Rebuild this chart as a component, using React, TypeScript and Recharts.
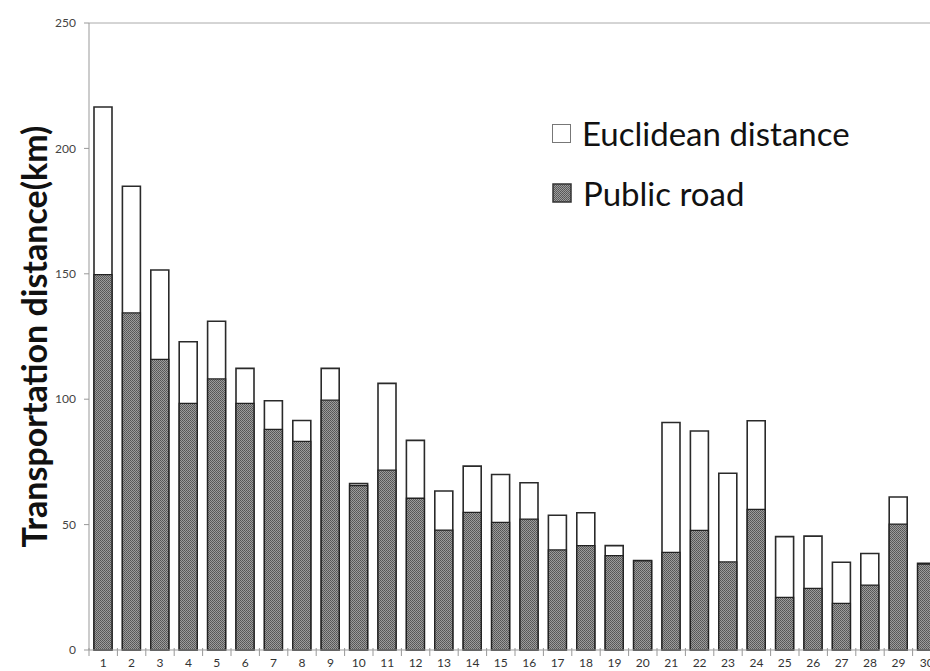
import React from 'react'
import {
  Bar,
  BarChart,
  ReferenceLine,
  XAxis,
  YAxis,
} from 'recharts'

const sites = [
  '1', '2', '3', '4', '5', '6', '7', '8', '9', '10',
  '11', '12', '13', '14', '15', '16', '17', '18', '19', '20',
  '21', '22', '23', '24', '25', '26', '27', '28', '29', '30',
]
const euclidean = [
  216.5, 184.9, 151.5, 122.9, 131.1, 112.3, 99.4, 91.5, 112.3, 66.4,
  106.3, 83.6, 63.4, 73.3, 70.0, 66.7, 53.7, 54.7, 41.6, 35.7,
  90.7, 87.3, 70.5, 91.4, 45.2, 45.4, 35.0, 38.5, 61.0, 34.6,
]
const publicRoad = [
  149.7, 134.4, 115.9, 98.3, 108.1, 98.3, 88.0, 83.2, 99.6, 65.6,
  71.7, 60.5, 47.8, 54.9, 50.9, 52.2, 39.9, 41.6, 37.6, 35.5,
  38.9, 47.7, 35.1, 56.1, 21.0, 24.6, 18.6, 25.9, 50.2, 34.3,
]
const yTicks = [0, 50, 100, 150, 200, 250]

const data = sites.map((name, i) => ({
  name,
  euclidean: euclidean[i],
  publicRoad: publicRoad[i],
}))

const FONT = 'Lato, "DejaVu Sans", sans-serif'

const SiteTick = (props: any) => {
  const { x, y, payload } = props
  const half = payload?.offset ?? 14.2
  return (
    <g>
      <line x1={x - half} x2={x - half} y1={y - 9} y2={y - 1} stroke='#999' />
      <text x={x} y={y + 10} textAnchor='middle' fontSize={12} fill='#333' fontFamily={FONT}>
        {payload.value}
      </text>
    </g>
  )
}

// legend sits over the plot, like the original
const LegendBox = () => (
  <div
    style={{
      position: 'absolute',
      left: 552,
      top: 103,
      fontFamily: FONT,
      fontSize: 33,
      color: '#111',
      lineHeight: '60px',
      whiteSpace: 'nowrap',
    }}
  >
    <div style={{ display: 'flex', alignItems: 'center' }}>
      <span style={{ width: 17, height: 17, border: '1.5px solid #777', background: '#fff', marginRight: 11 }} />
      Euclidean distance
    </div>
    <div style={{ display: 'flex', alignItems: 'center' }}>
      <svg width={20} height={20} style={{ marginRight: 11 }}>
        <rect x={1} y={1} width={18} height={18} fill='url(#roadDots)' stroke='#333' strokeWidth={1.5} />
      </svg>
      Public road
    </div>
  </div>
)

export default function App() {
  return (
    <div style={{ position: 'fixed', left: 0, top: 0, width: 930, height: 671, overflow: 'hidden', background: '#fff' }}>
      <BarChart
        width={945}
        height={671}
        data={data}
        margin={{ top: 23, right: 4, left: 0, bottom: 0 }}
      >
        <defs>
          <pattern id='roadDots' width={2} height={2} patternUnits='userSpaceOnUse'>
            <rect width={2} height={2} fill='#9c9c9c' />
            <rect width={1} height={1} fill='#555' />
            <rect x={1} y={1} width={1} height={1} fill='#5e5e5e' />
          </pattern>
        </defs>
        <XAxis
          xAxisId='a'
          dataKey='name'
          height={21}
          interval={0}
          tickLine={false}
          tickSize={5}
          tickMargin={2}
          tick={<SiteTick />}
          stroke='#999'
        />
        <XAxis xAxisId='b' dataKey='name' hide />
        <YAxis
          width={89}
          domain={[0, 250]}
          ticks={yTicks}
          tickSize={5}
          tickMargin={8}
          stroke='#999'
          tick={{ fontSize: 12, fill: '#444', fontFamily: FONT }}
          label={{
            content: (p: any) => {
              const vb = p.viewBox || { y: 23, height: 627 }
              const cy = vb.y + vb.height / 2
              return (
                <text
                  x={33}
                  y={cy}
                  transform={`rotate(-90, 33, ${cy})`}
                  textAnchor='middle'
                  dominantBaseline='central'
                  fontSize={34}
                  fontWeight='bold'
                  fontFamily={FONT}
                  fill='#111'
                >
                  Transportation distance(km)
                </text>
              )
            },
          }}
        />
        <ReferenceLine xAxisId='a' y={250} stroke='#aaa' />
        <Bar
          xAxisId='b'
          dataKey='euclidean'
          name='Euclidean distance'
          fill='#fff'
          stroke='#2a2a2a'
          strokeWidth={1.6}
          barSize={18}
          isAnimationActive={false}
        />
        <Bar
          xAxisId='a'
          dataKey='publicRoad'
          name='Public road'
          fill='url(#roadDots)'
          stroke='#222'
          strokeWidth={1.3}
          barSize={18}
          isAnimationActive={false}
        />
      </BarChart>
      <LegendBox />
    </div>
  )
}
